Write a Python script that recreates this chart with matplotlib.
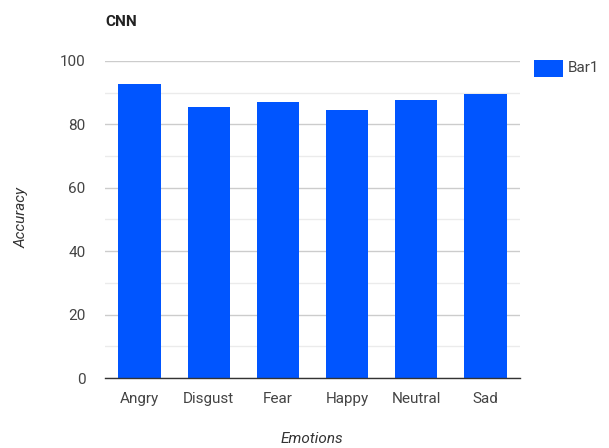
import matplotlib
matplotlib.use("Agg")
import matplotlib.pyplot as plt
from matplotlib.patches import Rectangle

categories = ["Angry", "Disgust", "Fear", "Happy", "Neutral", "Sad"]
accuracy = [92.7, 85.5, 87.0, 84.7, 87.7, 89.7]
series_name = "Bar1"
title = "CNN"

plt.rcParams['font.family'] = ['Roboto', 'DejaVu Sans']

fig = plt.figure(figsize=(6.09, 4.48), dpi=100)
ax = fig.add_axes([105/609, 1-378/448, (520-105)/609, (378-61)/448])

color = "#0055FF"
x = range(len(categories))
ax.bar(x, accuracy, width=0.61, color=color, zorder=3, label=series_name)
ax.set_xlim(-0.5, len(categories)-0.5)
ax.set_ylim(0, 100)
ax.set_yticks([0, 20, 40, 60, 80, 100])
ax.set_yticks([10, 30, 50, 70, 90], minor=True)
ax.grid(axis='y', which='major', color='#cccccc', linewidth=1, zorder=0)
ax.grid(axis='y', which='minor', color='#ebebeb', linewidth=1, zorder=0)
ax.set_xticks(list(x))
ax.set_xticklabels(categories)
for s in ['top', 'right', 'left']:
    ax.spines[s].set_visible(False)
ax.spines['bottom'].set_color('#333333')
ax.spines['bottom'].set_linewidth(1)
ax.spines['bottom'].set_zorder(4)
ax.tick_params(axis='both', which='both', length=0, labelsize=11, colors='#444444')
ax.tick_params(axis='x', pad=10)
ax.tick_params(axis='y', pad=14)

fig.text(105/609, 1-22/448, title, fontsize=11, fontweight='bold', color='#222222', va='center', ha='left')
fig.text(22/609, 1-218/448, "Accuracy", fontsize=11, style='italic', color='#333333', rotation=90, va='center', ha='center')
fig.text(312/609, 1-439/448, "Emotions", fontsize=11, style='italic', color='#333333', va='center', ha='center')

# legend
fig.patches.append(Rectangle((534/609, 1-77/448), 29/609, 17/448, transform=fig.transFigure, facecolor=color, edgecolor='none'))
fig.text(568/609, 1-68/448, series_name, fontsize=11, color='#444444', va='center', ha='left')

fig.savefig("out.png", dpi=100)
